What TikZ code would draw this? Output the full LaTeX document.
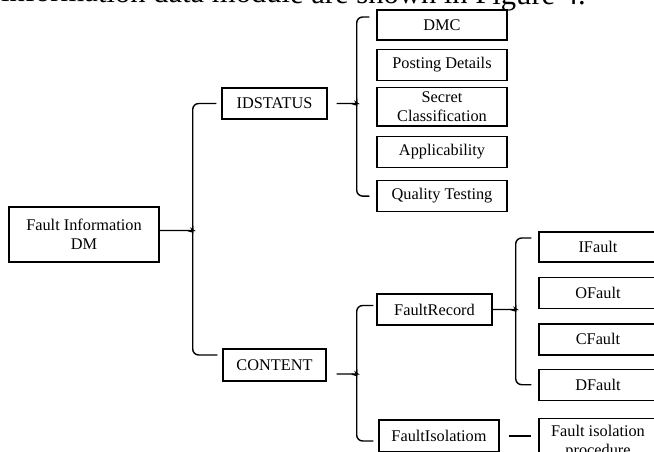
\documentclass[tikz,border=0pt]{standalone}
\usepackage{fontspec}
\setmainfont{Liberation Serif}
\usepackage{tikz}
\usetikzlibrary{positioning}

\begin{document}
\begin{tikzpicture}[
  x=1pt, y=1pt,
  node distance=8pt,
  item/.style={rectangle, draw, line width=1.4pt, inner sep=1pt, align=center,
    font=\fontsize{16.3}{19}\selectfont},
  link/.style={line width=1.4pt, rounded corners=6pt},
]
  \useasboundingbox (0,0) rectangle (654,451);
  \clip (0,0) rectangle (654,451);

  % cut-off line of the page text above the figure
  \node[anchor=base west, inner sep=0, rotate=-0.3, font=\fontsize{30.6}{36}\selectfont] (pagetext) at (1,449.5)
    {information data module are shown in Figure 4.};

  \node[item, minimum width=150, minimum height=55] (root) at (84,216.5) {Fault Information\\DM};
  \node[item, minimum width=105, minimum height=31] (idstatus) at (274.5,347.5) {IDSTATUS};
  \node[item, minimum width=103, minimum height=32] (content) at (274.5,86) {CONTENT};

  % IDSTATUS children
  \node[item, minimum width=130, minimum height=30] (dmc) at (442,426) {DMC};
  \node[item, minimum width=130, minimum height=31, below=8pt of dmc] (posting) {Posting Details};
  \node[item, minimum width=130, minimum height=38, below=6pt of posting] (secret) {Secret\\Classification};
  \node[item, minimum width=130, minimum height=31, below=9pt of secret] (applic) {Applicability};
  \node[item, minimum width=130, minimum height=31, below=12pt of applic] (quality) {Quality Testing};

  % CONTENT children
  \node[item, minimum width=115, minimum height=31] (record) at (434.5,141.5) {FaultRecord};
  \node[item, minimum width=120, minimum height=32] (isol) at (439,15) {FaultIsolatiom};

  \node[item, minimum width=118, minimum height=30] (ifault) at (598,204) {IFault};
  \node[item, minimum width=118, minimum height=31, below=14pt of ifault] (ofault) {OFault};
  \node[item, minimum width=118, minimum height=31, below=14pt of ofault] (cfault) {CFault};
  \node[item, minimum width=118, minimum height=31, below=13pt of cfault] (dfault) {DFault};
  \node[item, minimum width=118, minimum height=47, below=17pt of dfault] (procedure) {Fault isolation\\procedure};

  % braces
  \draw[link] ([yshift=4pt]root.east) -- ++(28,0) coordinate (r0)
    to[out=0,in=-90] ++(5,6) |- ([xshift=-5pt]idstatus.west);
  \draw[link] (r0) to[out=0,in=90] ++(5,-6) |- ([xshift=-5pt,yshift=10pt]content.west);

  \draw[link] ([xshift=9pt]idstatus.east) -- ++(15,0) coordinate (i0)
    to[out=0,in=-90] ++(5,6) |- ([xshift=-7pt,yshift=8pt]dmc.west);
  \draw[link] (i0) to[out=0,in=90] ++(5,-6) |- ([xshift=-7pt]quality.west);

  \draw[link] ([xshift=10pt,yshift=-9pt]content.east) -- ++(15,0) coordinate (c0)
    to[out=0,in=-90] ++(5,6) |- ([xshift=-3pt,yshift=4pt]record.west);
  \draw[link] (c0) to[out=0,in=90] ++(5,-6) |- ([xshift=-5pt,yshift=-5pt]isol.west);

  \draw[link] (record.east) -- ++(18,0) coordinate (f0)
    to[out=0,in=-90] ++(5,6) |- ([xshift=-7pt,yshift=9pt]ifault.west);
  \draw[link] (f0) to[out=0,in=90] ++(5,-6) |- ([xshift=-7pt]dfault.west);

  \draw[link] ([xshift=9pt]isol.east) -- ([xshift=-7pt]procedure.west |- isol.east);
\end{tikzpicture}
\end{document}
